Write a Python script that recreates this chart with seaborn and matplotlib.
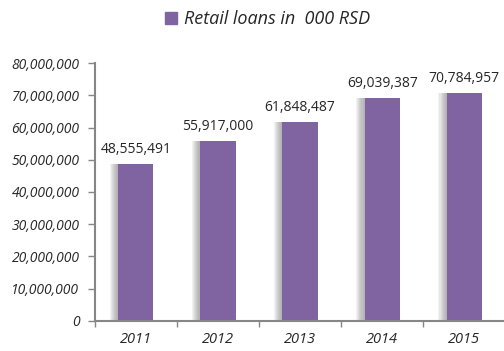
import matplotlib
matplotlib.use("Agg")
import matplotlib.pyplot as plt
import matplotlib.patheffects as pe
from matplotlib.ticker import FuncFormatter, FixedLocator
import seaborn as sns
import pandas as pd

years = ["2011", "2012", "2013", "2014", "2015"]
loans = [48555491, 55917000, 61848487, 69039387, 70784957]
series_name = "Retail loans in  000 RSD"
y_ticks = [0, 10000000, 20000000, 30000000, 40000000, 50000000, 60000000, 70000000, 80000000]

bar_color = "#8064A2"
axis_color = "#868686"
text_color = "#262626"

sns.set_theme(style="white")
plt.rcParams["font.family"] = ["Open Sans", "DejaVu Sans"]

df = pd.DataFrame({"year": years, "loans": loans, "series": series_name})

fig = plt.figure(figsize=(5.04, 3.51), dpi=100)
ax = fig.add_axes([0.188, 0.0855, 0.815, 0.735])

sns.barplot(data=df, x="year", y="loans", hue="series", palette=[bar_color],
            width=0.43, saturation=1, ax=ax, legend=False)

# soft grey shade fading out on the left flank of every bar
shade = [pe.SimplePatchShadow(offset=(-0.75 * k, 0), shadow_rgbFace="#808080", alpha=0.1)
         for k in range(1, 9)]
for patch in ax.patches:
    patch.set_linewidth(0)
    patch.set_path_effects(shade + [pe.Normal()])

for cont in ax.containers:
    ax.bar_label(cont, labels=[f"{v:,.0f}" for v in loans], padding=5,
                 fontsize=10, color=text_color)

ax.set_xlim(-0.5, 4.5)
ax.set_ylim(0, 80000000)
ax.yaxis.set_major_locator(FixedLocator(y_ticks))
ax.yaxis.set_major_formatter(FuncFormatter(lambda v, p: f"{v:,.0f}"))
ax.set_xlabel("")
ax.set_ylabel("")

for lab in ax.get_yticklabels():
    lab.set_fontstyle("italic")
for lab in ax.get_xticklabels():
    lab.set_fontstyle("italic")

ax.tick_params(axis="y", which="major", direction="out", length=5, width=1,
               color=axis_color, labelsize=10, labelcolor=text_color, pad=6, left=True)
ax.tick_params(axis="x", which="major", length=0, labelsize=10.5,
               labelcolor=text_color, pad=8)
ax.xaxis.set_minor_locator(FixedLocator([-0.5, 0.5, 1.5, 2.5, 3.5]))
ax.tick_params(axis="x", which="minor", direction="out", length=4, width=1,
               color=axis_color, bottom=True)

sns.despine(ax=ax, top=True, right=True)
for side in ("left", "bottom"):
    ax.spines[side].set_color(axis_color)
    ax.spines[side].set_linewidth(1.5)

handle = plt.Rectangle((0, 0), 1, 1, color=bar_color)
fig.legend([handle], [series_name], loc="center", bbox_to_anchor=(0.53, 0.945),
           frameon=False, handlelength=0.7, handleheight=0.7, handletextpad=0.35,
           prop={"style": "italic", "size": 13}, labelcolor=text_color)

fig.savefig("out.png", dpi=100)
